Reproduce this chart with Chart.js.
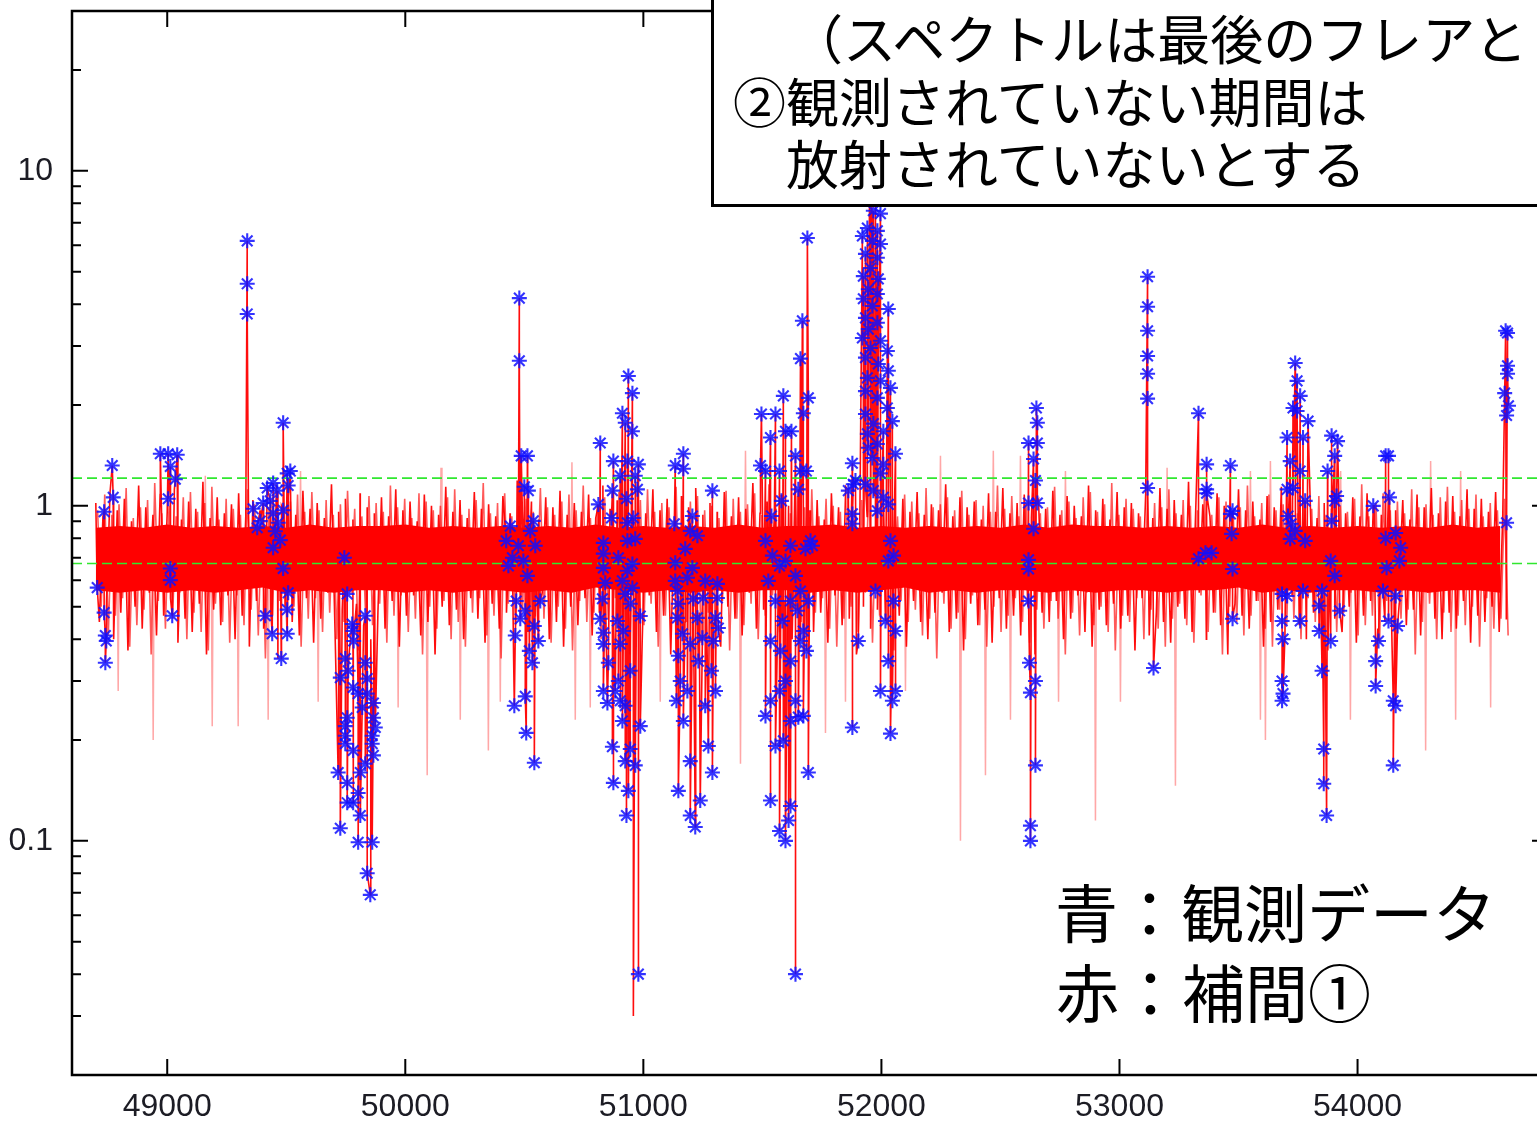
<!DOCTYPE html>
<html lang="ja">
<head>
<meta charset="utf-8" />
<title>観測データと補間</title>
<script src="https://cdn.jsdelivr.net/npm/chart.js@4.4.1/dist/chart.umd.min.js"></script>
<style>
  html, body { margin: 0; padding: 0; background: #fff; overflow: hidden; }
  #stage { position: relative; width: 1537px; height: 1121px; overflow: hidden; }
  #flux-chart { position: absolute; left: 0; top: 0; }
  .note-box { position: absolute; left: 711px; top: -12px; width: 900px; height: 219px; box-sizing: border-box; border: 3px solid #000; background: #fff; }
  .jp { position: absolute; font-family: "Noto Sans CJK JP", sans-serif; color: #000; white-space: nowrap; }
  .note-line { font-size: 53px; line-height: 53px; }
  .legend-line { font-size: 63px; line-height: 63px; }
</style>
</head>
<body>
<div id="stage">
  <canvas id="flux-chart" width="1560" height="1121"></canvas>
  <div class="note-box"></div>
  <div class="jp note-line" style="left:790px;top:11px">（スペクトルは最後のフレアと</div>
  <div class="jp note-line" style="left:733px;top:74px">②観測されていない期間は</div>
  <div class="jp note-line" style="left:786px;top:136px">放射されていないとする</div>
  <div class="jp legend-line" style="left:1055px;top:878px">青：観測データ</div>
  <div class="jp legend-line" style="left:1056px;top:958px">赤：補間①</div>
</div>
<script>
// axis ranges and ticks
const X_MIN = 48600;
const X_MAX = 54800;
const Y_MIN = 0.02;
const Y_MAX = 30;
const xTickValues = [49000, 50000, 51000, 52000, 53000, 54000];
const yLabelValues = [0.1, 1, 10];
const yMinorValues = [0.02, 0.03, 0.04, 0.05, 0.06, 0.07, 0.08, 0.09, 0.2, 0.3, 0.4, 0.5, 0.6, 0.7, 0.8, 0.9,
  2, 3, 4, 5, 6, 7, 8, 9, 20, 30];
const thresholdLevels = [1.21, 0.673];

// interpolated (red) noise, 30-day bins: one high and one low excursion per bin,
// set A on the bin edges, set B a quarter bin later
const NOISE_START = 48700;
const NOISE_STEP = 30;
const noiseHigh = [
  1.02, 0.93, 1.10, 0.97, 1.05, 0.90, 1.15, 0.99, 0.94, 1.08,
  0.96, 1.12, 0.91, 1.03, 0.98, 1.18, 0.92, 1.06, 0.95, 1.01,
  1.09, 0.93, 1.04, 0.97, 1.13, 0.90, 1.00, 1.07, 0.94, 1.11,
  0.98, 1.02, 0.92, 1.16, 0.96, 1.05, 0.91, 1.09, 0.99, 0.95,
  1.06, 0.93, 1.12, 0.97, 1.03, 0.90, 1.08, 1.00, 0.94, 1.14,
  0.96, 1.04, 0.92, 1.10, 0.98, 1.01, 0.93, 1.07, 0.95, 1.19,
  0.97, 1.03, 0.91, 1.06, 0.99, 1.11, 0.94, 1.02, 0.96, 1.08,
  0.92, 1.15, 0.98, 1.04, 0.93, 1.09, 1.00, 0.95, 1.12, 0.97,
  1.05, 0.91, 1.07, 0.99, 1.13, 0.94, 1.02, 0.96, 1.10, 0.93,
  1.06, 0.98, 1.17, 0.95, 1.03, 0.92, 1.08, 1.00, 0.94, 1.11,
  0.97, 1.04, 0.91, 1.09, 0.99, 1.14, 0.95, 1.02, 0.93, 1.07,
  0.98, 1.12, 0.92, 1.05, 0.96, 1.10, 0.94, 1.01, 0.97, 1.16,
  0.93, 1.06, 0.99, 1.03, 0.91, 1.09, 0.96, 1.13, 0.95, 1.02,
  1.08, 0.92, 1.04, 0.98, 1.11, 0.94, 1.07, 1.00, 0.93, 1.15,
  0.97, 1.05, 0.91, 1.10, 0.99, 1.02, 0.95, 1.08, 0.92, 1.13,
  0.98, 1.04, 0.94, 1.18, 0.96, 1.01, 0.93, 1.09, 1.00, 0.95,
  1.12, 0.97, 1.03, 0.91, 1.07, 0.99, 1.14, 0.94, 1.05, 0.96,
  1.10, 0.92, 1.02, 0.98, 1.16, 0.95, 1.06, 0.93, 1.09, 1.00,
  0.94, 1.11, 0.97, 1.04, 0.91, 1.08, 0.99, 1.13, 0.95, 1.03,
  1.07, 0.93, 1.12, 0.98, 1.05, 0.96, 1.10, 0.94,
];
const noiseLow = [
  0.45, 0.52, 0.40, 0.48, 0.37, 0.50, 0.43, 0.55, 0.41, 0.47,
  0.53, 0.39, 0.46, 0.42, 0.51, 0.36, 0.49, 0.44, 0.54, 0.40,
  0.47, 0.38, 0.52, 0.43, 0.48, 0.35, 0.50, 0.45, 0.41, 0.53,
  0.39, 0.46, 0.55, 0.42, 0.49, 0.37, 0.51, 0.44, 0.40, 0.48,
  0.43, 0.52, 0.38, 0.47, 0.54, 0.41, 0.45, 0.36, 0.50, 0.44,
  0.49, 0.40, 0.53, 0.46, 0.39, 0.51, 0.43, 0.48, 0.35, 0.52,
  0.42, 0.47, 0.55, 0.40, 0.45, 0.38, 0.50, 0.44, 0.53, 0.41,
  0.48, 0.37, 0.46, 0.52, 0.43, 0.49, 0.39, 0.54, 0.42, 0.47,
  0.36, 0.51, 0.45, 0.40, 0.48, 0.53, 0.44, 0.38, 0.50, 0.46,
  0.41, 0.55, 0.43, 0.49, 0.37, 0.47, 0.52, 0.40, 0.45, 0.51,
  0.42, 0.48, 0.39, 0.54, 0.44, 0.46, 0.36, 0.50, 0.43, 0.49,
  0.53, 0.41, 0.47, 0.38, 0.52, 0.45, 0.40, 0.48, 0.55, 0.42,
  0.46, 0.37, 0.51, 0.44, 0.49, 0.39, 0.53, 0.43, 0.47, 0.41,
  0.50, 0.36, 0.48, 0.45, 0.52, 0.40, 0.46, 0.54, 0.42, 0.38,
  0.49, 0.44, 0.51, 0.43, 0.47, 0.37, 0.53, 0.41, 0.48, 0.45,
  0.39, 0.50, 0.46, 0.42, 0.55, 0.40, 0.48, 0.44, 0.36, 0.51,
  0.47, 0.43, 0.52, 0.38, 0.45, 0.49, 0.41, 0.54, 0.44, 0.40,
  0.48, 0.53, 0.37, 0.46, 0.42, 0.50, 0.39, 0.47, 0.52, 0.43,
  0.45, 0.38, 0.51, 0.44, 0.49, 0.41, 0.55, 0.46, 0.40, 0.48,
  0.43, 0.52, 0.39, 0.47, 0.45, 0.50, 0.42, 0.46,
];
const noiseHighB = [
  0.97, 1.08, 0.94, 1.01, 1.13, 0.92, 0.99, 1.04, 1.17, 0.95,
  1.00, 0.93, 1.06, 1.10, 0.96, 1.02, 1.14, 0.91, 1.05, 0.98,
  0.94, 1.12, 1.01, 0.95, 0.99, 1.16, 0.93, 1.03, 1.08, 0.96,
  1.10, 0.97, 1.04, 0.94, 1.01, 1.11, 0.98, 0.93, 1.07, 1.02,
  0.96, 1.15, 0.99, 1.05, 0.92, 1.09, 1.03, 0.97, 1.00, 1.06,
  1.12, 0.94, 0.98, 1.04, 1.17, 0.95, 1.02, 1.09, 0.93, 1.00,
  1.05, 0.96, 1.13, 0.99, 0.94, 1.03, 1.08, 0.97, 1.15, 0.92,
  1.01, 1.06, 0.95, 1.10, 0.98, 0.93, 1.04, 1.12, 0.96, 1.02,
  0.99, 1.14, 0.94, 1.03, 1.07, 0.97, 1.00, 0.92, 1.11, 1.05,
  0.96, 1.01, 1.09, 0.94, 1.16, 0.98, 1.03, 0.95, 1.07, 0.99,
  1.12, 0.93, 1.05, 1.00, 0.96, 1.10, 0.97, 1.04, 1.18, 0.94,
  1.02, 0.98, 0.93, 1.08, 1.03, 0.95, 1.13, 0.99, 1.01, 1.06,
  0.97, 1.11, 0.94, 1.04, 1.00, 0.96, 1.15, 0.98, 1.07, 0.93,
  1.02, 1.09, 0.95, 0.99, 1.14, 0.97, 1.03, 0.92, 1.06, 1.10,
  0.96, 1.01, 1.17, 0.94, 1.05, 0.98, 0.93, 1.08, 1.02, 0.99,
  1.12, 0.95, 1.04, 1.00, 0.97, 1.11, 0.94, 1.06, 1.03, 0.96,
  0.99, 1.15, 0.93, 1.02, 1.08, 0.97, 1.01, 1.13, 0.95, 1.04,
  0.98, 1.07, 0.94, 1.10, 1.00, 0.96, 1.05, 1.16, 0.93, 1.02,
  1.09, 0.97, 1.03, 0.95, 1.12, 0.99, 1.01, 0.94, 1.06, 1.14,
  0.96, 1.04, 0.98, 1.08, 0.93, 1.02, 0.97, 1.05,
];
const noiseLowB = [
  0.50, 0.41, 0.47, 0.53, 0.38, 0.44, 0.49, 0.36, 0.52, 0.43,
  0.46, 0.55, 0.40, 0.48, 0.42, 0.37, 0.51, 0.45, 0.39, 0.54,
  0.44, 0.49, 0.41, 0.35, 0.47, 0.52, 0.43, 0.50, 0.38, 0.46,
  0.53, 0.42, 0.48, 0.40, 0.45, 0.55, 0.37, 0.49, 0.44, 0.51,
  0.39, 0.47, 0.54, 0.42, 0.46, 0.36, 0.50, 0.43, 0.52, 0.40,
  0.45, 0.38, 0.48, 0.53, 0.41, 0.47, 0.35, 0.51, 0.44, 0.49,
  0.42, 0.54, 0.46, 0.39, 0.50, 0.43, 0.37, 0.52, 0.45, 0.48,
  0.40, 0.46, 0.53, 0.41, 0.36, 0.49, 0.44, 0.51, 0.38, 0.47,
  0.55, 0.42, 0.45, 0.50, 0.39, 0.48, 0.43, 0.52, 0.37, 0.46,
  0.44, 0.51, 0.40, 0.47, 0.54, 0.42, 0.36, 0.49, 0.45, 0.41,
  0.48, 0.53, 0.43, 0.38, 0.46, 0.50, 0.42, 0.55, 0.39, 0.47,
  0.44, 0.37, 0.52, 0.45, 0.49, 0.41, 0.46, 0.35, 0.51, 0.43,
  0.48, 0.40, 0.54, 0.44, 0.38, 0.50, 0.42, 0.47, 0.53, 0.45,
  0.39, 0.49, 0.43, 0.52, 0.46, 0.36, 0.48, 0.41, 0.55, 0.44,
  0.50, 0.42, 0.37, 0.47, 0.45, 0.53, 0.40, 0.49, 0.43, 0.38,
  0.46, 0.51, 0.44, 0.39, 0.54, 0.42, 0.48, 0.36, 0.50, 0.45,
  0.41, 0.47, 0.52, 0.43, 0.38, 0.49, 0.44, 0.46, 0.40, 0.53,
  0.45, 0.37, 0.50, 0.42, 0.48, 0.55, 0.41, 0.44, 0.47, 0.39,
  0.52, 0.43, 0.46, 0.49, 0.36, 0.45, 0.51, 0.40, 0.48, 0.42,
  0.47, 0.44, 0.50, 0.38, 0.53, 0.43, 0.46, 0.41,
];

// solid core of the red band, per 100-day bin
const CORE_START = 48700;
const CORE_STEP = 100;
const coreHigh = [
  0.86, 0.87, 0.86, 0.88, 0.86, 0.87, 0.86, 0.87, 0.86, 0.88,
  0.86, 0.87, 0.87, 0.88, 0.86, 0.87, 0.86, 0.87, 0.86, 0.87,
  0.86, 0.88, 0.86, 0.87, 0.86, 0.87, 0.86, 0.88, 0.86, 0.87,
  0.87, 0.88, 0.86, 0.87, 0.86, 0.87, 0.86, 0.87, 0.86, 0.88,
  0.86, 0.88, 0.87, 0.87, 0.86, 0.87, 0.86, 0.87, 0.86, 0.88,
  0.86, 0.87, 0.86, 0.87, 0.86, 0.87, 0.86, 0.88, 0.86, 0.87,
];
const coreLow = [
  0.56, 0.55, 0.56, 0.55, 0.56, 0.55, 0.56, 0.57, 0.55, 0.56,
  0.55, 0.56, 0.56, 0.55, 0.56, 0.55, 0.56, 0.56, 0.55, 0.56,
  0.55, 0.57, 0.56, 0.55, 0.56, 0.55, 0.56, 0.55, 0.56, 0.56,
  0.55, 0.56, 0.55, 0.56, 0.57, 0.55, 0.56, 0.55, 0.56, 0.56,
  0.55, 0.56, 0.55, 0.56, 0.56, 0.55, 0.56, 0.56, 0.57, 0.55,
  0.56, 0.55, 0.56, 0.56, 0.55, 0.56, 0.55, 0.56, 0.56, 0.55,
];

// faint single-day excursions of the red curve [MJD, value]
const SPIKE_BASE = 0.68;
const faintSpikes = [
  [48794, 0.28], [48941, 0.2], [49160, 1.23], [49189, 0.22], [49298, 0.22], [49424, 0.23],
  [49560, 1.27], [49634, 0.26], [49970, 0.25], [50092, 0.157], [50150, 1.3], [50231, 0.23],
  [50349, 0.186], [50399, 0.26], [50700, 1.35], [50714, 0.23], [50777, 0.25], [51071, 0.26],
  [51408, 0.17], [51429, 1.46], [51765, 0.21], [51849, 0.26], [52101, 0.28], [52248, 1.41],
  [52332, 0.1], [52437, 0.157], [52470, 1.46], [52542, 0.23], [52584, 1.41], [52744, 0.26],
  [52773, 1.27], [52899, 0.115], [53004, 0.26], [53200, 1.3], [53235, 0.146], [53550, 1.27],
  [53592, 0.23], [53613, 0.2], [53634, 1.36], [53929, 1.27], [53970, 0.23], [54286, 0.186],
  [54307, 1.36], [54412, 0.23], [54433, 1.27], [54559, 0.25],
];
const deepDips = [[50958, 0.03]];

// observed (blue) points [MJD, value], grouped by observing window
const obs48700 = [
  [48706, 0.57], [48735, 0.96], [48769, 1.32], [48773, 1.06], [48735, 0.48], [48740, 0.41],
  [48744, 0.395], [48740, 0.34],
];
const obs49000 = [
  [48971, 1.43], [49004, 1.43], [49042, 1.42], [49013, 1.31], [49034, 1.2], [49004, 1.05],
  [49013, 0.65], [49013, 0.6], [49021, 0.47],
];
const obs49400 = [
  [49336, 6.18], [49336, 4.6], [49336, 3.74],
  [49361, 0.98], [49378, 0.86], [49403, 1.02], [49420, 1.13], [49445, 1.17], [49462, 1.11],
  [49445, 0.95], [49487, 0.97], [49504, 1.25], [49508, 1.15], [49466, 0.89], [49445, 0.75],
  [49487, 0.65], [49508, 0.55], [49504, 0.49], [49441, 0.415], [49504, 0.415], [49412, 0.47],
  [49487, 1.77], [49517, 1.27], [49479, 0.35], [49391, 0.9], [49433, 1.035], [49454, 0.84],
  [49475, 0.79],
];
const obs49800 = [
  [49744, 0.7], [49756, 0.546], [49832, 0.47], [49777, 0.444], [49780, 0.423], [49783, 0.395],
  [49748, 0.35], [49832, 0.34], [49760, 0.322], [49727, 0.307], [49781, 0.287], [49840, 0.305],
  [49802, 0.275], [49840, 0.275], [49819, 0.25], [49866, 0.258], [49756, 0.233], [49866, 0.233],
  [49748, 0.22], [49874, 0.218], [49748, 0.206], [49861, 0.206], [49748, 0.195], [49781, 0.186],
  [49861, 0.195], [49866, 0.18], [49832, 0.17], [49718, 0.16], [49811, 0.16], [49756, 0.149],
  [49802, 0.139], [49756, 0.13], [49781, 0.13], [49811, 0.119], [49727, 0.109], [49802, 0.099],
  [49861, 0.099], [49840, 0.08], [49853, 0.069],
];
const obs50500 = [
  [50479, 4.17], [50479, 2.71], [50487, 1.41], [50513, 1.41], [50500, 1.14], [50517, 1.11],
  [50441, 0.87], [50424, 0.786], [50450, 0.7], [50475, 0.76], [50496, 0.685], [50513, 0.618],
  [50525, 0.842], [50538, 0.902], [50546, 0.76], [50466, 0.52], [50483, 0.46], [50504, 0.486],
  [50542, 0.438], [50559, 0.395], [50521, 0.369], [50534, 0.34], [50462, 0.41], [50458, 0.253],
  [50504, 0.27], [50508, 0.21], [50542, 0.171], [50567, 0.52], [50433, 0.662],
];
const obs50900 = [
  [50937, 2.44], [50954, 2.17], [50912, 1.89], [50924, 1.77], [50954, 1.67], [50819, 1.54],
  [50874, 1.36], [50933, 1.36], [50979, 1.33], [50903, 1.23], [50966, 1.23], [50870, 1.11],
  [50975, 1.12], [50929, 1.05], [50811, 1.01], [50866, 0.92], [50933, 0.89], [50958, 0.92],
  [50832, 0.775], [50933, 0.786], [50966, 0.797], [50832, 0.72], [50895, 0.7], [50954, 0.671],
  [50832, 0.653], [50933, 0.64], [50840, 0.589], [50912, 0.597], [50954, 0.569], [50828, 0.528],
  [50924, 0.546], [50945, 0.51], [50819, 0.46], [50891, 0.453], [50987, 0.469], [50832, 0.418],
  [50916, 0.423], [50832, 0.387], [50903, 0.387], [50853, 0.34], [50832, 0.28], [50849, 0.258],
  [50882, 0.28], [50903, 0.262], [50870, 0.191], [50874, 0.149], [50924, 0.173], [50937, 0.141],
  [50929, 0.119], [50945, 0.188], [50966, 0.168], [50979, 0.04], [50987, 0.22], [50912, 0.228],
  [50895, 0.3], [50945, 0.322], [50924, 0.253],
];
const obs51200 = [
  [51134, 1.32], [51168, 1.43], [51168, 1.29], [51290, 1.11], [51130, 0.884], [51206, 0.933],
  [51197, 0.842], [51227, 0.814], [51176, 0.744], [51134, 0.676], [51206, 0.653], [51134, 0.597],
  [51185, 0.61], [51260, 0.597], [51311, 0.585], [51143, 0.557], [51252, 0.531], [51311, 0.531],
  [51147, 0.51], [51210, 0.528], [51143, 0.463], [51227, 0.463], [51303, 0.463], [51315, 0.432],
  [51164, 0.415], [51197, 0.387], [51248, 0.404], [51294, 0.395], [51139, 0.262], [51155, 0.3],
  [51147, 0.357], [51168, 0.228], [51197, 0.173], [51147, 0.141], [51197, 0.119], [51218, 0.11],
  [51239, 0.132], [51273, 0.192], [51290, 0.16], [51303, 0.28], [51260, 0.253], [51185, 0.28],
  [51231, 0.344], [51286, 0.322],
];
const obs51600 = [
  [51496, 1.88], [51555, 1.88], [51534, 1.6], [51588, 2.13], [51597, 1.67], [51622, 1.67],
  [51660, 2.75], [51668, 3.57], [51689, 6.3], [51693, 2.1], [51672, 1.89], [51492, 1.32],
  [51513, 1.27], [51639, 1.41], [51660, 1.27], [51685, 1.27], [51651, 1.12], [51572, 1.27],
  [51580, 1.035], [51538, 0.933], [51513, 0.786], [51542, 0.71], [51572, 0.662], [51597, 0.685],
  [51618, 0.76], [51639, 0.618], [51660, 0.557], [51681, 0.744], [51702, 0.786], [51525, 0.597],
  [51555, 0.52], [51584, 0.453], [51618, 0.52], [51647, 0.486], [51672, 0.423], [51693, 0.52],
  [51710, 0.76], [51534, 0.395], [51576, 0.369], [51618, 0.344], [51660, 0.395], [51685, 0.369],
  [51572, 0.28], [51597, 0.3], [51639, 0.262], [51672, 0.236], [51534, 0.262], [51618, 0.228],
  [51651, 0.234], [51555, 0.192], [51588, 0.199], [51693, 0.16], [51534, 0.132], [51572, 0.107],
  [51597, 0.1], [51610, 0.115], [51618, 0.127], [51639, 0.04], [51513, 0.236],
];
const obs52000 = [
  [51966, 7.6], [51996, 7.45], [51941, 6.75], [51983, 6.62], [51920, 6.39], [51962, 6.18],
  [51996, 6.05], [51933, 5.65], [51983, 5.5], [51954, 5.13], [51924, 4.85], [51987, 4.76],
  [51945, 4.43], [51983, 4.29], [51924, 4.15], [51962, 3.95], [52029, 3.87], [51933, 3.64],
  [51983, 3.52], [51945, 3.37], [51920, 3.17], [51996, 3.11], [51954, 2.96], [52025, 2.9],
  [51933, 2.77], [51987, 2.65], [52029, 2.53], [51941, 2.41], [51996, 2.36], [52038, 2.25],
  [51933, 2.2], [51983, 2.1], [52025, 1.96], [51933, 1.88], [52046, 1.79], [51966, 1.76],
  [51941, 1.64], [52008, 1.67], [51983, 1.53], [52059, 1.43], [51945, 1.49], [51962, 1.39],
  [52008, 1.33], [51996, 1.25], [51933, 1.16], [51966, 1.11], [52008, 1.06], [52029, 1.01],
  [51983, 0.966], [51878, 1.34], [51882, 1.16], [51878, 0.946], [51878, 0.884], [51950, 8.3],
  [51975, 8.8], [51958, 9.4], [52038, 0.786], [52051, 0.52], [52029, 0.685], [52059, 0.28],
  [52046, 0.262], [52038, 0.209], [52029, 0.344], [52017, 0.453], [51996, 0.28], [51975, 0.557],
  [52059, 0.423], [52051, 0.71], [51878, 0.218], [51891, 1.19], [51903, 0.395], [51861, 1.11],
];
const obs52600 = [
  [52618, 1.54], [52655, 1.54], [52639, 1.38], [52647, 1.19], [52651, 1.96], [52655, 1.77],
  [52618, 1.02], [52655, 1.02], [52639, 0.854], [52618, 0.69], [52618, 0.648], [52618, 0.52],
  [52622, 0.34], [52647, 0.3], [52626, 0.277], [52647, 0.168], [52626, 0.111], [52626, 0.1],
];
const obs53100 = [
  [53118, 4.83], [53118, 3.93], [53118, 3.33], [53118, 2.8], [53118, 2.48], [53118, 2.09],
  [53118, 1.13], [53143, 0.328],
];
const obs53400 = [
  [53332, 1.89], [53366, 1.33], [53366, 1.12], [53366, 1.09], [53332, 0.695], [53361, 0.724],
  [53387, 0.724], [53466, 1.32], [53475, 0.966], [53466, 0.946], [53471, 0.825], [53475, 0.648],
  [53475, 0.46],
];
const obs53800 = [
  [53704, 1.6], [53729, 1.96], [53717, 1.36], [53704, 1.12], [53729, 1.13], [53708, 0.933],
  [53721, 0.884], [53717, 0.797], [53683, 0.546], [53704, 0.538], [53687, 0.4], [53683, 0.3],
  [53687, 0.275], [53738, 2.67], [53746, 2.36], [53759, 2.13], [53746, 1.92], [53771, 1.6],
  [53759, 1.27], [53780, 1.035], [53839, 0.423], [53851, 0.322], [53858, 0.188], [53858, 0.148],
  [53870, 0.119], [53851, 0.557], [53839, 0.503], [53780, 0.786], [53891, 1.62], [53916, 1.56],
  [53904, 1.41], [53904, 1.035], [53891, 0.902], [53912, 1.07], [53925, 0.486], [53887, 0.685],
  [53904, 0.618], [53874, 1.27], [53738, 0.842], [53759, 0.453], [53771, 0.557], [53683, 0.453],
  [53683, 0.262], [53792, 1.79], [53887, 0.395],
];
const obs54100 = [
  [54130, 1.41], [54118, 1.41], [54134, 1.06], [54118, 0.8], [54160, 0.83], [54181, 0.75],
  [54122, 0.653], [54176, 0.685], [54160, 0.538], [54066, 1.0], [54088, 0.395], [54076, 0.344],
  [54076, 0.29], [54150, 0.262], [54160, 0.253], [54150, 0.168], [54168, 0.438], [54107, 0.557],
  [54130, 0.453],
];
const obs54600 = [
  [54630, 3.28], [54622, 3.33], [54630, 2.62], [54630, 2.48], [54618, 2.17], [54634, 1.99],
  [54626, 1.86], [54626, 0.89],
];

const observed = [
  ...obs48700, ...obs49000, ...obs49400, ...obs49800, ...obs50500, ...obs50900, ...obs51200,
  ...obs51600, ...obs52000, ...obs52600, ...obs53100, ...obs53400, ...obs53800, ...obs54100,
  ...obs54600,
];

function toPoints(pairs) {
  return pairs.map(([x, y]) => ({ x, y }));
}

function byX(a, b) {
  return a.x - b.x;
}

function buildNoise(highs, lows, shift) {
  const points = [];
  highs.forEach((high, i) => {
    const start = NOISE_START + i * NOISE_STEP + shift;
    points.push({ x: start, y: high }, { x: start + NOISE_STEP / 2, y: lows[i] });
  });
  return points;
}

function buildInterpolated() {
  return buildNoise(noiseHigh, noiseLow, 0).concat(toPoints(observed), toPoints(deepDips)).sort(byX);
}

function buildCore(values) {
  return values.map((y, i) => ({ x: CORE_START + i * CORE_STEP, y }));
}

function buildSpikes() {
  const points = [];
  [...faintSpikes].sort((a, b) => a[0] - b[0]).forEach(([x, y]) => {
    points.push({ x: x - 4, y: SPIKE_BASE }, { x, y }, { x: x + 4, y: SPIKE_BASE });
  });
  return points;
}

// inward tick marks and the closed frame, placed through the chart's own scales
const frameTicks = {
  id: "frameTicks",
  afterDraw(chart) {
    const { ctx, chartArea: area, scales } = chart;
    const major = 16;
    const minor = 9;
    ctx.save();
    ctx.strokeStyle = "#000";
    ctx.lineWidth = 2.5;
    ctx.strokeRect(area.left, area.top, area.right - area.left, area.bottom - area.top);
    ctx.lineWidth = 2;
    ctx.beginPath();
    xTickValues.forEach((value) => {
      const px = scales.x.getPixelForValue(value);
      ctx.moveTo(px, area.bottom);
      ctx.lineTo(px, area.bottom - major);
      ctx.moveTo(px, area.top);
      ctx.lineTo(px, area.top + major);
    });
    const yTick = (value, length) => {
      const py = scales.y.getPixelForValue(value);
      ctx.moveTo(area.left, py);
      ctx.lineTo(area.left + length, py);
      ctx.moveTo(area.right, py);
      ctx.lineTo(area.right - length, py);
    };
    yLabelValues.forEach((value) => yTick(value, major));
    yMinorValues.forEach((value) => yTick(value, minor));
    ctx.stroke();
    ctx.restore();
  },
};

const tickFont = { family: "'Liberation Sans', Arial, sans-serif", size: 32 };

new Chart(document.querySelector("#flux-chart"), {
  type: "line",
  data: {
    datasets: [
      {
        label: "観測データ",
        data: toPoints(observed),
        showLine: false,
        pointStyle: "star",
        pointRadius: 7.5,
        pointBorderWidth: 2.1,
        pointBorderColor: "rgba(15, 15, 255, 0.85)",
        pointBackgroundColor: "rgba(15, 15, 255, 0.85)",
        order: 0,
      },
      ...thresholdLevels.map((level) => ({
        label: "threshold",
        data: [{ x: X_MIN, y: level }, { x: X_MAX, y: level }],
        borderColor: "#2fe82f",
        borderWidth: 1.6,
        borderDash: [10, 5],
        pointRadius: 0,
        order: 1,
      })),
      {
        label: "補間",
        data: buildInterpolated(),
        borderColor: "rgba(255, 0, 0, 0.95)",
        borderWidth: 1.6,
        pointRadius: 0,
        order: 2,
      },
      {
        label: "補間-b",
        data: buildNoise(noiseHighB, noiseLowB, NOISE_STEP / 4),
        borderColor: "rgba(255, 0, 0, 0.65)",
        borderWidth: 1.6,
        pointRadius: 0,
        order: 3,
      },
      {
        label: "core-low",
        data: buildCore(coreLow),
        borderWidth: 0,
        borderColor: "rgba(255, 0, 0, 0)",
        pointRadius: 0,
        order: 4,
      },
      {
        label: "core-high",
        data: buildCore(coreHigh),
        borderWidth: 0,
        borderColor: "rgba(255, 0, 0, 0)",
        backgroundColor: "#ff0000",
        fill: "-1",
        pointRadius: 0,
        order: 4,
      },
      {
        label: "spikes",
        data: buildSpikes(),
        borderColor: "rgba(255, 60, 60, 0.45)",
        borderWidth: 1.5,
        pointRadius: 0,
        order: 5,
      },
    ],
  },
  options: {
    responsive: false,
    devicePixelRatio: 1,
    animation: false,
    events: [],
    layout: { padding: { left: 0, top: 11, right: 12, bottom: 0 } },
    plugins: {
      legend: { display: false },
      tooltip: { enabled: false },
    },
    scales: {
      x: {
        type: "linear",
        min: X_MIN,
        max: X_MAX,
        grid: { display: false, drawTicks: false },
        border: { display: false },
        afterBuildTicks: (scale) => {
          scale.ticks = xTickValues.map((value) => ({ value }));
        },
        afterFit: (scale) => {
          scale.height = 46;
          scale.paddingLeft = 0;
          scale.paddingRight = 0;
        },
        ticks: {
          autoSkip: false,
          maxRotation: 0,
          padding: 13,
          color: "#1c1c24",
          font: tickFont,
          callback: (value) => String(value),
        },
      },
      y: {
        type: "logarithmic",
        min: Y_MIN,
        max: Y_MAX,
        grid: { display: false, drawTicks: false },
        border: { display: false },
        afterBuildTicks: (scale) => {
          scale.ticks = yLabelValues.map((value) => ({ value }));
        },
        afterFit: (scale) => {
          scale.width = 72;
          scale.paddingTop = 0;
          scale.paddingBottom = 0;
        },
        ticks: {
          padding: 19,
          color: "#1c1c24",
          font: tickFont,
          callback: (value) => String(value),
        },
      },
    },
  },
  plugins: [frameTicks],
});
</script>
</body>
</html>
